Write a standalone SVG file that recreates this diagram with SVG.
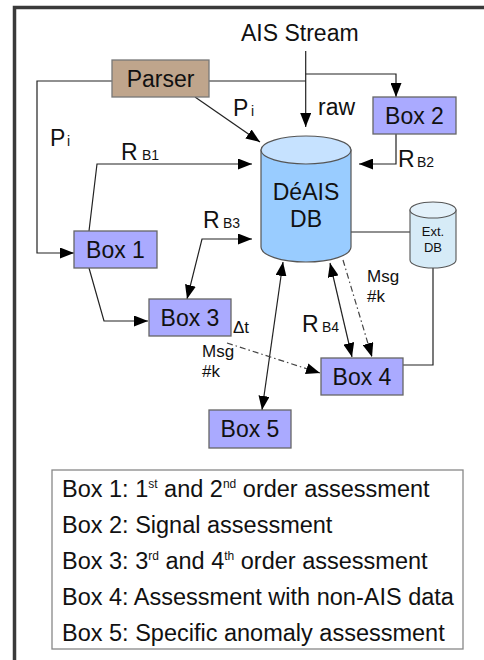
<svg xmlns="http://www.w3.org/2000/svg" width="484" height="660" viewBox="0 0 484 660">
<defs>
<marker id="ah" viewBox="0 0 14 11" refX="14" refY="5.5" markerWidth="14" markerHeight="11" markerUnits="userSpaceOnUse" orient="auto-start-reverse">
<path d="M0,0 L14,5.5 L0,11 Z" fill="#000"/>
</marker>
</defs>
<style>
text{font-family:"Liberation Sans",Arial,sans-serif;fill:#111}
.big{font-size:23px}
.sub{font-size:14px}
.mid{font-size:17px}
.box{fill:#aaaaff;stroke:#666;stroke-width:1.3}
.c{fill:none;stroke:#222;stroke-width:1.2}
.dd{fill:none;stroke:#444;stroke-width:1.2;stroke-dasharray:6 3 1.5 3}
.lbl{text-anchor:middle;font-size:23px}
.leg{font-size:23.5px}
.sup{font-size:12px}
</style>
<rect width="484" height="660" fill="#fff"/>
<path d="M14.5,660 L14.5,7.5 L484,7.5" fill="none" stroke="#3a3a3a" stroke-width="3.5"/>

<g id="connectors">
<path class="c" d="M305.7,51 L305.7,127" marker-end="url(#ah)"/>
<path class="c" d="M305.7,74 L396,74 L396,97" marker-end="url(#ah)"/>
<path class="c" d="M209,81 L305.7,81"/>
<path class="c" d="M112,81 L37,81 L37,253 L74,253" marker-end="url(#ah)"/>
<path class="c" d="M195,97 L260,142" marker-end="url(#ah)"/>
<path class="c" d="M396,134 L396,164 L359,164" marker-end="url(#ah)"/>
<path class="c" d="M89,231 L97,164 L252,164" marker-end="url(#ah)"/>
<path class="c" d="M89,268 L104,321 L148,321" marker-end="url(#ah)"/>
<path class="c" d="M187,299 L202,239 L252,239" marker-start="url(#ah)" marker-end="url(#ah)"/>
<path class="c" d="M283,262 L262,410" marker-start="url(#ah)" marker-end="url(#ah)"/>
<path class="c" d="M330,263 L352,357" marker-start="url(#ah)" marker-end="url(#ah)"/>
<path class="dd" d="M343,260 L372,357" marker-end="url(#ah)"/>
<path class="dd" d="M227,343 L320,373" marker-end="url(#ah)"/>
<path class="c" d="M351,232 L410,232"/>
<path class="c" d="M433,268 L433,365 L403,365"/>
</g>

<text class="big" x="241" y="41">AIS Stream</text>

<g id="parser">
<rect x="112" y="60" width="97" height="37" fill="#bfa58c" stroke="#777" stroke-width="1.3"/>
<text class="lbl" x="160.5" y="86.5">Parser</text>
</g>

<g id="box2">
<rect class="box" x="373" y="97" width="83" height="37"/>
<text class="lbl" x="414.5" y="123.5">Box 2</text>
</g>

<g id="deais-db">
<path d="M261,150 L261,247 A45,15 0 0,0 351,247 L351,150 Z" fill="#99ccff" stroke="#555" stroke-width="1.2"/>
<ellipse cx="306" cy="150" rx="45" ry="14" fill="#c6e2ff" stroke="#555" stroke-width="1.2"/>
<text class="lbl" x="306" y="200">DéAIS</text>
<text class="lbl" x="306" y="227">DB</text>
</g>

<g id="ext-db">
<path d="M410,210 L410,260 A23,8 0 0,0 456,260 L456,210 Z" fill="#d6ebf7" stroke="#555" stroke-width="1.1"/>
<ellipse cx="433" cy="210" rx="23" ry="8" fill="#e3f1fa" stroke="#555" stroke-width="1.1"/>
<text x="433" y="236" text-anchor="middle" font-size="13">Ext.</text>
<text x="433" y="252" text-anchor="middle" font-size="13">DB</text>
</g>

<g id="box1">
<rect class="box" x="74" y="231" width="83" height="37"/>
<text class="lbl" x="115.5" y="257.5">Box 1</text>
</g>

<g id="box3">
<rect class="box" x="149" y="299" width="82" height="37"/>
<text class="lbl" x="190" y="325.5">Box 3</text>
</g>

<g id="box4">
<rect class="box" x="321" y="358" width="82" height="37"/>
<text class="lbl" x="362" y="384.5">Box 4</text>
</g>

<g id="box5">
<rect class="box" x="209" y="410" width="82" height="38"/>
<text class="lbl" x="250" y="437">Box 5</text>
</g>

<g id="labels">
<text class="big" x="50" y="146">P</text><text class="sub" x="67" y="146">i</text>
<text class="big" x="233" y="116">P</text><text class="sub" x="251" y="116">i</text>
<text class="big" x="318" y="115">raw</text>
<text class="big" x="121" y="160">R</text><text class="sub" x="142" y="160">B1</text>
<text class="big" x="398" y="167">R</text><text class="sub" x="417" y="167">B2</text>
<text class="big" x="203" y="228">R</text><text class="sub" x="223" y="228">B3</text>
<text class="big" x="302" y="332">R</text><text class="sub" x="322" y="332">B4</text>
<text class="mid" x="233" y="333">Δt</text>
<text class="mid" x="367" y="282">Msg</text>
<text class="mid" x="367" y="302">#k</text>
<text class="mid" x="202" y="357">Msg</text>
<text class="mid" x="202" y="377">#k</text>
</g>

<g id="legend">
<rect x="52" y="470" width="411" height="179" fill="#fff" stroke="#888" stroke-width="1.3"/>
<text class="leg" x="62" y="497">Box 1: 1<tspan class="sup" dy="-9">st</tspan><tspan dy="9"> and 2</tspan><tspan class="sup" dy="-9">nd</tspan><tspan dy="9"> order assessment</tspan></text>
<text class="leg" x="62" y="533">Box 2: Signal assessment</text>
<text class="leg" x="62" y="569">Box 3: 3<tspan class="sup" dy="-9">rd</tspan><tspan dy="9"> and 4</tspan><tspan class="sup" dy="-9">th</tspan><tspan dy="9"> order assessment</tspan></text>
<text class="leg" x="62" y="605">Box 4: Assessment with non-AIS data</text>
<text class="leg" x="62" y="641">Box 5: Specific anomaly assessment</text>
</g>
</svg>
